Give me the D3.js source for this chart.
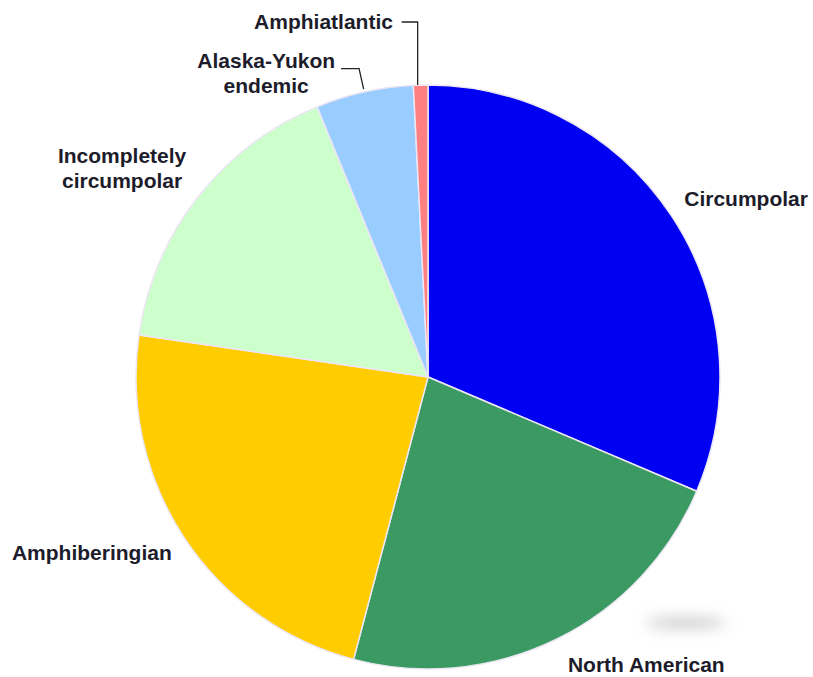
<!DOCTYPE html>
<html>
<head>
<meta charset="utf-8">
<script src="https://cdn.jsdelivr.net/npm/d3@7"></script>
<style>
  html, body { margin: 0; padding: 0; background: #fff; }
  svg { display: block; }
</style>
</head>
<body>
<div id="chart"></div>
<script>
// Share of species by distribution type (percent)
const categories = ['Circumpolar', 'North American', 'Amphiberingian', 'Incompletely circumpolar', 'Alaska-Yukon endemic', 'Amphiatlantic'];
const values     = [31.4, 22.7, 23.2, 16.5, 5.4, 0.8];
const labelLines = [['Circumpolar'], ['North American'], ['Amphiberingian'], ['Incompletely', 'circumpolar'], ['Alaska-Yukon', 'endemic'], ['Amphiatlantic']];
const colors     = ['#0000f2', '#3a9a62', '#ffcc00', '#ccffcc', '#99ccff', '#ff8080'];

(function () {
    const width = 813, height = 677;
    const cx = 428, cy = 377, radius = 292;

    const svg = d3.select('#chart').append('svg')
        .attr('width', width).attr('height', height)
        .attr('viewBox', `0 0 ${width} ${height}`);

    // soft shadow blob under the bottom-right of the pie
    const defs = svg.append('defs');
    defs.append('filter').attr('id', 'blur').attr('x', '-50%').attr('y', '-200%').attr('width', '200%').attr('height', '500%')
        .append('feGaussianBlur').attr('stdDeviation', 7);
    svg.append('ellipse')
        .attr('cx', 686).attr('cy', 623).attr('rx', 40).attr('ry', 6)
        .attr('fill', '#cfcfcf').attr('filter', 'url(#blur)');

    const data = categories.map((c, i) => ({ name: c, value: values[i], lines: labelLines[i], color: colors[i] }));

    const pie = d3.pie().sort(null).value(d => d.value).startAngle(0).endAngle(2 * Math.PI);
    const arcs = pie(data);
    const arc = d3.arc().innerRadius(0).outerRadius(radius);

    const g = svg.append('g').attr('transform', `translate(${cx},${cy})`);

    g.selectAll('path.slice').data(arcs).enter().append('path')
        .attr('class', 'slice')
        .attr('d', arc)
        .attr('fill', d => d.data.color)
        .attr('stroke', '#ece6f4')
        .attr('stroke-width', 1.5)
        .attr('stroke-linejoin', 'round');

    // polar helper (angle measured clockwise from 12 o'clock)
    const polar = (a, r) => [r * Math.sin(a), -r * Math.cos(a)];
    const mid = d => (d.startAngle + d.endAngle) / 2;

    // label placement: radius, anchor, tweaks
    const labelCfg = [
        { r: 312, anchor: 'start',  dx: -4,  dy: -6 },
        { r: 318, anchor: 'start',  dx: 0,   dy: 2 },
        { r: 312, anchor: 'end',    dx: 4,   dy: 4 },
        { r: 312, anchor: 'middle', dx: -60, dy: -17 },
        { r: 320, anchor: 'middle', dx: -92, dy: 8 },
        { r: 360, anchor: 'end',    dx: -26, dy: 0 }
    ];

    const fontSize = 21, lineH = 25;
    const topY = -cy + 22;

    // leader lines for the two small slices
    const leader = g.append('g').attr('fill', 'none').attr('stroke', '#222').attr('stroke-width', 1.3);
    {
        const d = arcs[4];
        const a = mid(d);
        const p0 = polar(a, radius + 3);
        const p1 = polar(a, radius + 24);
        leader.append('path').attr('d', d3.line()([p0, p1, [p1[0] - 18, p1[1]]]));
    }
    {
        const d = arcs[5];
        const a = mid(d);
        const p0 = polar(a, radius);
        leader.append('path').attr('d', d3.line()([[p0[0] - 3, p0[1]], [p0[0] - 3, topY], [p0[0] - 19, topY]]));
    }

    const labels = g.selectAll('text.lbl').data(arcs).enter().append('text')
        .attr('class', 'lbl')
        .attr('font-family', '"Liberation Sans", Arial, sans-serif')
        .attr('font-weight', 'bold')
        .attr('font-size', fontSize + 'px')
        .attr('fill', '#1c1c2a')
        .attr('text-anchor', (d, i) => labelCfg[i].anchor)
        .attr('transform', (d, i) => {
            const c = labelCfg[i];
            let [x, y] = polar(mid(d), c.r);
            if (i === 5) y = topY;
            return `translate(${x + c.dx},${y + c.dy})`;
        });

    labels.each(function (d) {
        const t = d3.select(this);
        const n = d.data.lines.length;
        d.data.lines.forEach((ln, k) => {
            t.append('tspan')
                .attr('x', 0)
                .attr('y', (k - (n - 1) / 2) * lineH)
                .attr('dy', '0.35em')
                .text(ln);
        });
    });
})();
</script>
</body>
</html>
